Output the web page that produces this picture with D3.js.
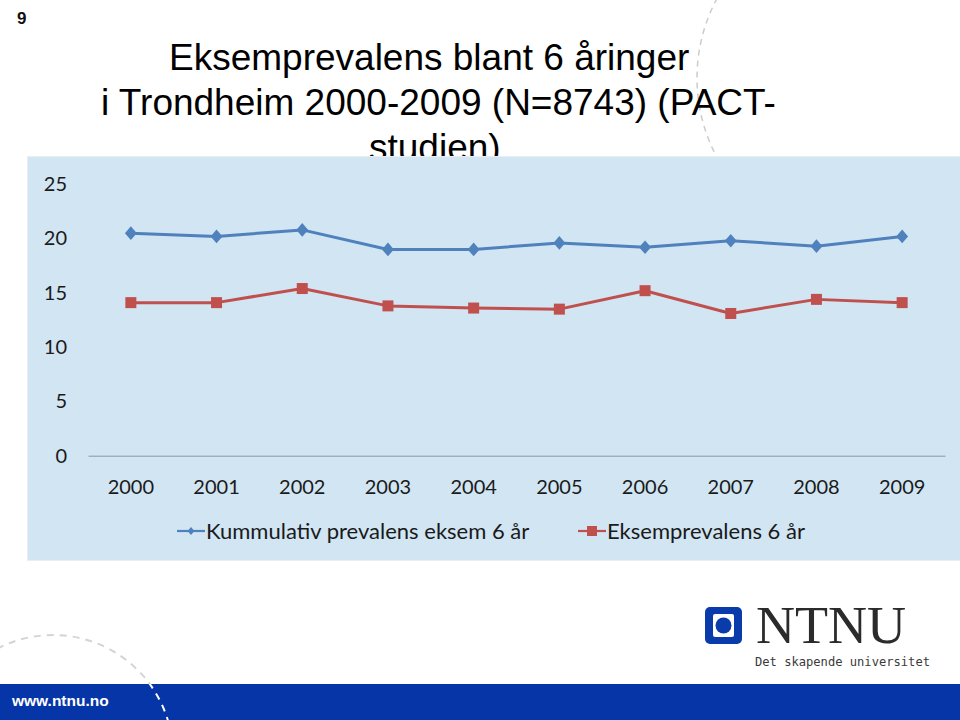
<!DOCTYPE html>
<html>
<head>
<meta charset="utf-8">
<script src="https://cdn.jsdelivr.net/npm/d3@7"></script>
<style>
  html, body { margin: 0; padding: 0; background: #fff; }
  svg { display: block; }
</style>
</head>
<body>
<svg id="slide" width="960" height="720"></svg>
<script>
// ---- data ----
const years = ["2000","2001","2002","2003","2004","2005","2006","2007","2008","2009"];
const kummulativ = [20.5, 20.2, 20.8, 19.0, 19.0, 19.6, 19.2, 19.8, 19.3, 20.2];
const eksemprevalens = [14.1, 14.1, 15.4, 13.8, 13.6, 13.5, 15.2, 13.1, 14.4, 14.1];
const yTicks = [0, 5, 10, 15, 20, 25];
const seriesNames = ["Kummulativ prevalens eksem 6 år", "Eksemprevalens 6 år"];
const titleLines = ["Eksemprevalens blant 6 åringer", "i Trondheim 2000-2009 (N=8743) (PACT-", "studien)"];

const svg = d3.select("#slide");
const W = 960, H = 720;
const chartFont = "Lato, 'Open Sans', sans-serif";

// ---- background decorations ----
svg.append("circle")
  .attr("cx", 865).attr("cy", 78).attr("r", 168)
  .attr("fill", "none").attr("stroke", "#cccccc").attr("stroke-width", 1.5)
  .attr("stroke-dasharray", "6 5");
svg.append("circle")
  .attr("cx", 53).attr("cy", 755).attr("r", 120)
  .attr("fill", "none").attr("stroke", "#d4d4d4").attr("stroke-width", 2)
  .attr("stroke-dasharray", "7 6");

// slide number
svg.append("text").attr("x", 17).attr("y", 24)
  .attr("font-family", "'Liberation Sans', Arial, sans-serif")
  .attr("font-weight", "bold").attr("font-size", 17).attr("fill", "#111")
  .text("9");

// title
const titleX = [169, 101, 369];
titleLines.forEach((t, i) => {
  svg.append("text")
    .attr("x", titleX[i]).attr("y", 70 + i * 45)
    .attr("font-family", "'Liberation Sans', Arial, sans-serif")
    .attr("font-size", 37).attr("fill", "#000")
    .text(t);
});

// ---- chart panel ----
const panel = {x: 28, y: 157, w: 932, h: 403};
svg.append("rect")
  .attr("x", panel.x - 1).attr("y", panel.y - 1)
  .attr("width", panel.w + 2).attr("height", panel.h + 2)
  .attr("fill", "#e9eef2");
svg.append("rect")
  .attr("x", panel.x).attr("y", panel.y)
  .attr("width", panel.w).attr("height", panel.h)
  .attr("fill", "#d1e5f3");

const plot = {left: 88, right: 945, top: 184.3, bottom: 455.7};

const x = d3.scaleBand().domain(years).range([plot.left, plot.right]).paddingInner(0).paddingOuter(0);
const cx = d => x(d) + x.bandwidth() / 2;
const y = d3.scaleLinear().domain([0, 25]).range([plot.bottom, plot.top]);

// y axis
const yAxis = svg.append("g")
  .attr("transform", `translate(${plot.left},0)`)
  .call(d3.axisLeft(y).tickValues(yTicks).tickSize(0).tickPadding(21));
yAxis.select(".domain").remove();
yAxis.selectAll("text")
  .attr("font-family", chartFont).attr("font-size", 20).attr("fill", "#1a1a1a");

// x axis
const xAxis = svg.append("g")
  .attr("transform", `translate(0,${plot.bottom})`)
  .call(d3.axisBottom(x).tickSize(0).tickPadding(24));
xAxis.select(".domain").attr("stroke", "#8a97a6").attr("stroke-width", 1);
xAxis.selectAll("text")
  .attr("font-family", chartFont).attr("font-size", 20).attr("fill", "#1a1a1a");

// series
const series = [
  {name: seriesNames[0], values: kummulativ, color: "#4f81bd", marker: "diamond"},
  {name: seriesNames[1], values: eksemprevalens, color: "#c0504d", marker: "square"}
];

const line = d3.line().x((d, i) => cx(years[i])).y(d => y(d));

function drawMarker(g, type, px, py, color) {
  if (type === "diamond") {
    g.append("path")
      .attr("d", d3.symbol().type(d3.symbolDiamond2).size(90)())
      .attr("transform", `translate(${px},${py}) scale(1,1.15)`)
      .attr("fill", color);
  } else {
    g.append("rect")
      .attr("x", px - 5.5).attr("y", py - 5.5)
      .attr("width", 11).attr("height", 11)
      .attr("fill", color);
  }
}

series.forEach(s => {
  svg.append("path").datum(s.values)
    .attr("d", line)
    .attr("fill", "none").attr("stroke", s.color).attr("stroke-width", 3)
    .attr("stroke-linejoin", "round");
  const g = svg.append("g");
  s.values.forEach((v, i) => drawMarker(g, s.marker, cx(years[i]), y(v), s.color));
});

// legend
const legendX = [177, 578];
const legendY = 531;
series.forEach((s, i) => {
  const g = svg.append("g");
  g.append("line")
    .attr("x1", legendX[i]).attr("x2", legendX[i] + 28)
    .attr("y1", legendY).attr("y2", legendY)
    .attr("stroke", s.color).attr("stroke-width", 2.2);
  if (s.marker === "diamond") {
    g.append("path")
      .attr("d", d3.symbol().type(d3.symbolDiamond2).size(30)())
      .attr("transform", `translate(${legendX[i] + 14},${legendY}) scale(1,1.15)`)
      .attr("fill", s.color);
  } else {
    g.append("rect")
      .attr("x", legendX[i] + 14 - 5).attr("y", legendY - 5)
      .attr("width", 10).attr("height", 10).attr("fill", s.color);
  }
  g.append("text")
    .attr("x", legendX[i] + 29).attr("y", legendY + 8)
    .attr("font-family", chartFont).attr("font-size", 22).attr("fill", "#1a1a1a")
    .text(s.name);
});

// ---- NTNU logo ----
const logo = svg.append("g");
logo.append("rect").attr("x", 705).attr("y", 607).attr("width", 37).attr("height", 37)
  .attr("rx", 5).attr("fill", "#0a3bab");
logo.append("rect").attr("x", 713).attr("y", 614).attr("width", 21).attr("height", 23)
  .attr("rx", 2).attr("fill", "#fff");
logo.append("circle").attr("cx", 723.5).attr("cy", 625.5).attr("r", 8).attr("fill", "#0a3bab");
logo.append("text").attr("x", 756).attr("y", 643)
  .attr("font-family", "'Liberation Serif', 'DejaVu Serif', serif")
  .attr("font-size", 52).attr("fill", "#2b2b2b")
  .attr("textLength", 150).attr("lengthAdjust", "spacingAndGlyphs")
  .text("NTNU");
logo.append("text").attr("x", 755).attr("y", 666)
  .attr("font-family", "'DejaVu Sans Mono', monospace")
  .attr("font-size", 13).attr("fill", "#3a3a3a")
  .attr("textLength", 175).attr("lengthAdjust", "spacingAndGlyphs")
  .text("Det skapende universitet");

// ---- bottom bar ----
svg.append("rect").attr("x", 0).attr("y", 684).attr("width", W).attr("height", 36)
  .attr("fill", "#0635a8");
svg.append("clipPath").attr("id", "barclip")
  .append("rect").attr("x", 0).attr("y", 684).attr("width", W).attr("height", 36);
svg.append("circle")
  .attr("cx", 53).attr("cy", 755).attr("r", 120)
  .attr("clip-path", "url(#barclip)")
  .attr("fill", "none").attr("stroke", "#ffffff").attr("stroke-width", 2)
  .attr("stroke-dasharray", "7 6");
svg.append("text").attr("x", 12).attr("y", 706)
  .attr("font-family", "'Liberation Sans', Arial, sans-serif")
  .attr("font-weight", "bold").attr("font-size", 15.5).attr("fill", "#fff")
  .text("www.ntnu.no");
</script>
</body>
</html>
